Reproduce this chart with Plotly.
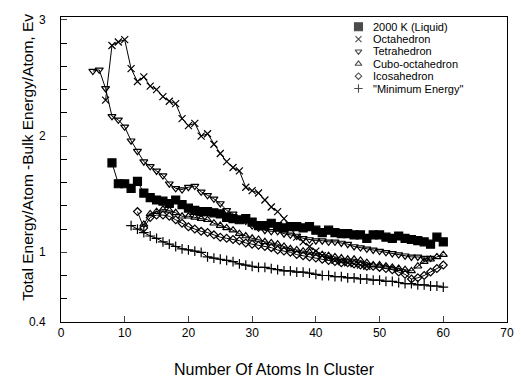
import plotly.graph_objects as go

# ---- data ----
liquid_x = list(range(8, 61))
liquid_y = [1.77, 1.59, 1.59, 1.55, 1.61, 1.51, 1.47, 1.45, 1.44, 1.42, 1.45, 1.41, 1.38,
            1.36, 1.35, 1.35, 1.34, 1.33, 1.30, 1.29, 1.28, 1.29, 1.26, 1.23, 1.23, 1.25,
            1.22, 1.21, 1.22, 1.22, 1.21, 1.22, 1.19, 1.17, 1.19, 1.17, 1.16, 1.16, 1.15,
            1.15, 1.12, 1.15, 1.15, 1.13, 1.12, 1.14, 1.12, 1.11, 1.10, 1.09, 1.07, 1.13, 1.09]

octa_x = list(range(7, 49))
octa_y = [2.31, 2.78, 2.81, 2.83, 2.58, 2.47, 2.51, 2.43, 2.40, 2.34, 2.30, 2.28, 2.15,
          2.09, 2.11, 2.00, 2.02, 1.93, 1.85, 1.78, 1.73, 1.70, 1.56, 1.53, 1.51, 1.45,
          1.39, 1.35, 1.29, 1.21, 1.13, 1.09, 1.05, 1.01, 0.97, 0.95, 0.93, 0.92, 0.91,
          0.90, 0.89, 0.88]

tetra_x = list(range(5, 59))
tetra_y = [2.56, 2.57, 2.41, 2.17, 2.14, 2.08, 1.96, 1.87, 1.78, 1.74, 1.70, 1.66, 1.59,
           1.55, 1.54, 1.56, 1.57, 1.52, 1.49, 1.46, 1.42, 1.36, 1.33, 1.29, 1.27, 1.23,
           1.21, 1.19, 1.18, 1.18, 1.16, 1.15, 1.14, 1.12, 1.11, 1.10, 1.10, 1.09, 1.09,
           1.08, 1.07, 1.05, 1.04, 1.03, 1.02, 1.01, 1.00, 0.99, 0.98, 0.97, 0.96, 0.96,
           0.95, 0.95]

cubo_x = list(range(13, 61))
cubo_y = [1.24, 1.33, 1.35, 1.37, 1.36, 1.34, 1.31, 1.31, 1.30, 1.29, 1.28, 1.25, 1.23,
          1.21, 1.19, 1.16, 1.14, 1.12, 1.11, 1.09, 1.08, 1.07, 1.05, 1.03, 1.02, 1.01,
          1.00, 0.99, 0.98, 0.97, 0.96, 0.95, 0.94, 0.94, 0.93, 0.91, 0.89, 0.89, 0.88,
          0.87, 0.86, 0.85, 0.84, 0.88, 0.92, 0.94, 0.96, 0.98]

icosa_x = list(range(12, 61))
icosa_y = [1.35, 1.21, 1.30, 1.32, 1.32, 1.31, 1.28, 1.25, 1.22, 1.20, 1.18, 1.17, 1.15,
           1.13, 1.12, 1.11, 1.10, 1.08, 1.07, 1.06, 1.05, 1.04, 1.02, 1.01, 1.00, 0.98,
           0.97, 0.96, 0.95, 0.94, 0.93, 0.92, 0.91, 0.91, 0.90, 0.89, 0.88, 0.88, 0.87,
           0.86, 0.85, 0.83, 0.81, 0.77, 0.78, 0.80, 0.83, 0.86, 0.89]

min_x = list(range(11, 61))
min_y = [1.23, 1.20, 1.17, 1.14, 1.12, 1.09, 1.07, 1.05, 1.03, 1.02, 1.01, 1.00, 0.96,
         0.95, 0.94, 0.93, 0.92, 0.90, 0.89, 0.88, 0.87, 0.87, 0.86, 0.85, 0.84, 0.84,
         0.83, 0.83, 0.82, 0.81, 0.80, 0.80, 0.79, 0.79, 0.78, 0.78, 0.77, 0.77, 0.76,
         0.76, 0.75, 0.75, 0.74, 0.73, 0.73, 0.72, 0.72, 0.71, 0.71, 0.70]

names = ["2000 K (Liquid)", "Octahedron", "Tetrahedron", "Cubo-octahedron",
         "Icosahedron", "\"Minimum Energy\""]
symbols = ["square", "x-thin-open", "triangle-down-open", "triangle-up-open",
           "diamond-open", "cross-thin-open"]
sizes = [8, 7, 7, 7, 6, 7]
legend_sizes = [8, 6, 6, 6, 5, 6]

x_ticks = [0, 10, 20, 30, 40, 50, 60, 70]
y_ticks = [0.4, 1, 2, 3]
y_minor = [0.6, 0.8, 1.2, 1.4, 1.6, 1.8, 2.2, 2.4, 2.6, 2.8]

series = [(liquid_x, liquid_y), (octa_x, octa_y), (tetra_x, tetra_y),
          (cubo_x, cubo_y), (icosa_x, icosa_y), (min_x, min_y)]

# legend layout (paper fractions of the plot area)
LEG_X = 0.667
LEG_TOP = 0.968
LEG_STEP = 0.0405

FONT = "Liberation Sans, Arial, sans-serif"
fig = go.Figure()
for (xs, ys), name, sym, sz in zip(series, names, symbols, sizes):
    fig.add_trace(go.Scatter(
        x=xs, y=ys, mode="lines+markers", name=name, showlegend=False,
        line=dict(color="black", width=1),
        marker=dict(symbol=sym, size=sz, color="black",
                    line=dict(color="black", width=1.2))))

# hand-built legend: symbols on an overlay axis in [0,1] space, labels as annotations
leg_y = [LEG_TOP - i * LEG_STEP for i in range(len(names))]
fig.add_trace(go.Scatter(
    x=[LEG_X] * len(names), y=leg_y, mode="markers", xaxis="x2", yaxis="y2",
    showlegend=False, hoverinfo="skip",
    marker=dict(symbol=symbols, size=legend_sizes, color="black",
                line=dict(color="black", width=1.1))))

annotations = [
    dict(text="Number Of Atoms In Cluster", xref="paper", yref="paper",
         x=0.478, y=-0.157, xanchor="center", yanchor="middle",
         showarrow=False, font=dict(size=16)),
    dict(text="Total Energy/Atom -Bulk Energy/Atom, Ev", xref="paper",
         yref="paper", x=-0.075, y=0.54, xanchor="center", yanchor="middle",
         textangle=-90, showarrow=False, font=dict(size=15.5)),
]
for name, yy in zip(names, leg_y):
    annotations.append(dict(text=name, xref="paper", yref="paper", x=LEG_X + 0.028,
                            y=yy, xanchor="left", yanchor="middle", showarrow=False,
                            font=dict(size=11)))

fig.update_layout(
    width=521, height=377,
    margin=dict(l=61, r=7, t=17, b=55),
    paper_bgcolor="white", plot_bgcolor="white",
    font=dict(family=FONT, size=12, color="black"),
    showlegend=False,
    xaxis=dict(range=[0, 70], tickvals=x_ticks, ticks="inside", ticklen=6,
               showgrid=False, zeroline=False, showline=True, linecolor="black",
               linewidth=1, mirror=True, tickfont=dict(size=12)),
    yaxis=dict(range=[0.4, 3.025], tickvals=y_ticks, ticktext=["0.4", "1", "2", "3"],
               ticks="inside", ticklen=6, showgrid=False, zeroline=False,
               showline=True, linecolor="black", linewidth=1, mirror=True,
               tickfont=dict(size=12), ticklabelstandoff=12,
               minor=dict(tickvals=y_minor, ticks="inside", ticklen=6,
                          tickcolor="black", showgrid=False)),
    xaxis2=dict(range=[0, 1], overlaying="x", visible=False, fixedrange=True),
    yaxis2=dict(range=[0, 1], overlaying="y", visible=False, fixedrange=True),
    annotations=annotations,
)
fig.write_html("out.html")
